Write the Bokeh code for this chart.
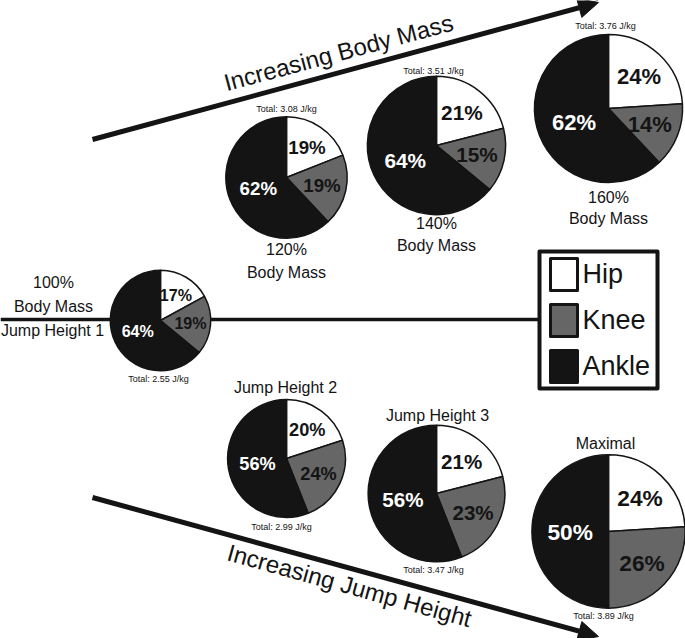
import numpy as np
from bokeh.plotting import figure
from bokeh.models import Range1d, ColumnDataSource, Arrow, NormalHead
from bokeh.core.properties import value
from bokeh.embed import file_html
from bokeh.resources import INLINE

# ---------------- data ----------------
joints = ["Hip", "Knee", "Ankle"]
joint_colors = ["#ffffff", "#666666", "#141414"]
joint_text_colors = ["#141414", "#141414", "#ffffff"]

conditions = ["100% Body Mass / Jump Height 1", "120% Body Mass", "140% Body Mass",
              "160% Body Mass", "Jump Height 2", "Jump Height 3", "Maximal"]
hip_pct = [17, 19, 21, 24, 20, 21, 24]
knee_pct = [19, 19, 15, 14, 24, 23, 26]
ankle_pct = [64, 62, 64, 62, 56, 56, 50]
totals = [2.55, 3.08, 3.51, 3.76, 2.99, 3.47, 3.89]   # J/kg

name_lines = [["100%", "Body Mass", "Jump Height 1"],
              ["120%", "Body Mass"],
              ["140%", "Body Mass"],
              ["160%", "Body Mass"],
              ["Jump Height 2"],
              ["Jump Height 3"],
              ["Maximal"]]

# ---------------- layout (image pixel coords, y down) ----------------
W, H = 685, 638
def Y(v):
    return H - v

cx = [160, 286, 436, 608, 286, 436, 608]
cy = [320, 177, 145, 108, 458, 493, 531]
R_PER_J = 19.7
label_factor = [0.6, 0.6, 0.5]

name_pos = [[(53, 282), (53, 306), (52, 330)],
            [(286, 249), (286, 272)],
            [(436, 223), (436, 245)],
            [(608, 197), (608, 218)],
            [(285, 387)],
            [(437, 415)],
            [(605, 443)]]
total_pos = [(158, 378), (286, 108), (433, 70), (605, 25), (281, 526), (433, 569), (603, 615)]

FONT = "Liberation Sans"

p = figure(width=W, height=H, x_range=Range1d(0, W), y_range=Range1d(0, H),
           output_backend="svg", toolbar_location=None, x_axis_type=None, y_axis_type=None,
           min_border=0, outline_line_color=None, background_fill_color="white")
p.grid.visible = False

# horizontal connecting line
p.segment(x0=[0], y0=[Y(319)], x1=[539], y1=[Y(319)], line_color="#141414", line_width=3.5)

# pies
wx, wy, wr, ws, we, wc = [], [], [], [], [], []
lx, ly, lt, lc, ls = [], [], [], [], []
for i in range(len(conditions)):
    pcts = [hip_pct[i], knee_pct[i], ankle_pct[i]]
    r = totals[i] * R_PER_J
    fsize = 0.25 * r + 3.5
    cum = 0.0
    for j, pc in enumerate(pcts):
        a0 = cum / 100.0
        a1 = (cum + pc) / 100.0
        cum += pc
        wx.append(cx[i]); wy.append(Y(cy[i])); wr.append(r)
        ws.append(np.pi / 2 - 2 * np.pi * a1)
        we.append(np.pi / 2 - 2 * np.pi * a0)
        wc.append(joint_colors[j])
        mid = np.pi / 2 - 2 * np.pi * (a0 + a1) / 2
        lx.append(cx[i] + label_factor[j] * r * np.cos(mid))
        ly.append(Y(cy[i]) + label_factor[j] * r * np.sin(mid))
        lt.append(f"{pc}%")
        lc.append(joint_text_colors[j])
        ls.append(f"{fsize:.1f}px")

wsrc = ColumnDataSource(dict(x=wx, y=wy, r=wr, s=ws, e=we, c=wc))
p.wedge(x="x", y="y", radius="r", start_angle="s", end_angle="e", direction="anticlock",
        fill_color="c", line_color="#141414", line_width=1.5, source=wsrc)
lsrc = ColumnDataSource(dict(x=lx, y=ly, t=lt, c=lc, s=ls))
p.text(x="x", y="y", text="t", text_color="c", text_font_size="s", text_font=value(FONT),
       text_font_style="bold", text_align="center", text_baseline="middle", source=lsrc)

# totals
tx = [pp[0] for pp in total_pos]
ty = [Y(pp[1]) for pp in total_pos]
tt = [f"Total: {t:.2f} J/kg" for t in totals]
p.text(x=tx, y=ty, text=tt, text_font=value(FONT), text_font_size="9px",
       text_color="#141414", text_align="center", text_baseline="middle")

# condition names
nx, ny, nt = [], [], []
for i in range(len(conditions)):
    for line, (px_, py_) in zip(name_lines[i], name_pos[i]):
        nx.append(px_); ny.append(Y(py_)); nt.append(line)
p.text(x=nx, y=ny, text=nt, text_font=value(FONT), text_font_size="16px",
       text_color="#141414", text_align="center", text_baseline="middle")

# legend box
p.quad(left=[539], right=[657], top=[Y(251)], bottom=[Y(388)], fill_color=None,
       line_color="#141414", line_width=4, line_join="round")
sw_y = [274, 320, 366]
p.quad(left=[550] * 3, right=[577] * 3, top=[Y(v) + 16 for v in sw_y], bottom=[Y(v) - 16 for v in sw_y],
       fill_color=joint_colors, line_color="#141414", line_width=3, line_join="round")
p.text(x=[582] * 3, y=[Y(v) + 1 for v in sw_y], text=joints, text_font=value(FONT),
       text_font_size="27px", text_color="#141414", text_align="left", text_baseline="middle")

# arrows
p.add_layout(Arrow(x_start=92, y_start=Y(139), x_end=598, y_end=Y(2), line_width=5,
                   line_color="#141414",
                   end=NormalHead(size=20, fill_color="#141414", line_color="#141414")))
p.add_layout(Arrow(x_start=92, y_start=Y(497), x_end=598, y_end=Y(636), line_width=5,
                   line_color="#141414",
                   end=NormalHead(size=20, fill_color="#141414", line_color="#141414")))
p.text(x=[338], y=[Y(52)], text=["Increasing Body Mass"], angle=np.deg2rad(15.0),
       text_font=value(FONT), text_font_size="24px", text_color="#141414",
       text_align="center", text_baseline="middle")
p.text(x=[349], y=[Y(585)], text=["Increasing Jump Height"], angle=np.deg2rad(-15.5),
       text_font=value(FONT), text_font_size="24px", text_color="#141414",
       text_align="center", text_baseline="middle")

open("out.html", "w").write(file_html(p, INLINE))
